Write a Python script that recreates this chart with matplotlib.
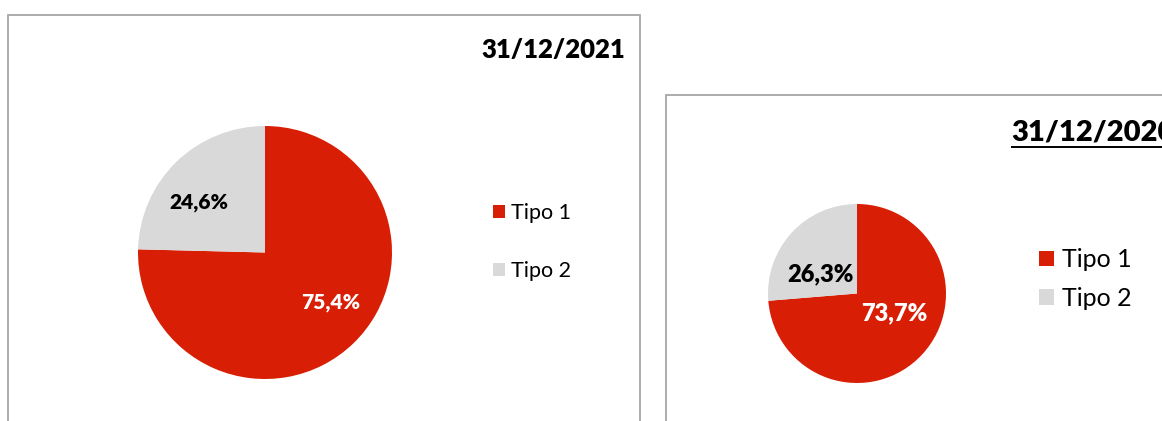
import matplotlib
matplotlib.use("Agg")
import numpy as np
import matplotlib.pyplot as plt
from matplotlib.patches import Rectangle
from matplotlib.lines import Line2D

plt.rcParams['font.family'] = ['Lato', 'DejaVu Sans']

categories = ["Tipo 1", "Tipo 2"]
values_2021 = [75.4, 24.6]
values_2020 = [73.7, 26.3]
titles = ["31/12/2021", "31/12/2020"]
colors = ["#D81E05", "#D9D9D9"]
label_colors = ["white", "black"]

W, H = 1162, 421
fig = plt.figure(figsize=(W / 100, H / 100), dpi=100)


def fx(x):
    return x / W


def fy(y):
    return (H - y) / H


def fmt(p):
    return f"{p:.1f}%".replace(".", ",")


# panel borders
for (x0, y0, x1, y1) in [(8, 15, 640, 460), (666, 95, 1220, 460)]:
    fig.add_artist(Rectangle((fx(x0), fy(y1)), fx(x1) - fx(x0), fy(y0) - fy(y1),
                             transform=fig.transFigure, fill=False,
                             ec="#A6A6A6", lw=1.3))

panels = [
    dict(vals=values_2021, title=titles[0], pie=(138, 126, 392, 379), pct=0.65,
         rot=8.5, lblsize=15, title_xy=(625, 50), title_size=18.5, underline=False,
         leg_xy=(493, 242), leg_size=15.5, leg_spacing=1.75, handle=0.55),
    dict(vals=values_2020, title=titles[1], pie=(768, 204, 946, 383), pct=0.47,
         rot=15, lblsize=17, title_xy=(1175, 132), title_size=21, underline=True,
         leg_xy=(1039, 279), leg_size=18, leg_spacing=0.62, handle=0.6),
]

fig.canvas.draw()
renderer = fig.canvas.get_renderer()

for p in panels:
    x0, y0, x1, y1 = p["pie"]
    ax = fig.add_axes([fx(x0), fy(y1), fx(x1) - fx(x0), fy(y0) - fy(y1)])
    wedges, texts, autotexts = ax.pie(p["vals"], colors=colors, startangle=90,
                                      counterclock=False, autopct=fmt,
                                      pctdistance=p["pct"],
                                      textprops=dict(fontweight="heavy",
                                                     fontsize=p["lblsize"]),
                                      wedgeprops=dict(linewidth=0))
    for w, t, c in zip(wedges, autotexts, label_colors):
        t.set_color(c)
        mid = np.deg2rad((w.theta1 + w.theta2) / 2 + p["rot"])
        t.set_position((p["pct"] * np.cos(mid), p["pct"] * np.sin(mid)))
    ax.set_aspect("auto")
    ax.set_xlim(-1, 1)
    ax.set_ylim(-1, 1)
    ax.axis("off")

    tx, ty = p["title_xy"]
    t = fig.text(fx(tx), fy(ty), p["title"], ha="right", va="center",
                 fontsize=p["title_size"], fontweight="heavy", color="#000000")
    if p["underline"]:
        bb = t.get_window_extent(renderer=renderer)
        yline = bb.y0 - 2
        fig.add_artist(Line2D([bb.x0 / W, bb.x1 / W], [yline / H, yline / H],
                              transform=fig.transFigure, color="black", lw=1.4))

    lx, ly = p["leg_xy"]
    fig.legend(wedges, categories, loc="center left",
               bbox_to_anchor=(fx(lx), fy(ly)), frameon=False,
               fontsize=p["leg_size"], labelspacing=p["leg_spacing"],
               handlelength=p["handle"], handleheight=p["handle"],
               handletextpad=0.3, borderpad=0, borderaxespad=0)

fig.savefig("out.png", dpi=100, facecolor="white")
